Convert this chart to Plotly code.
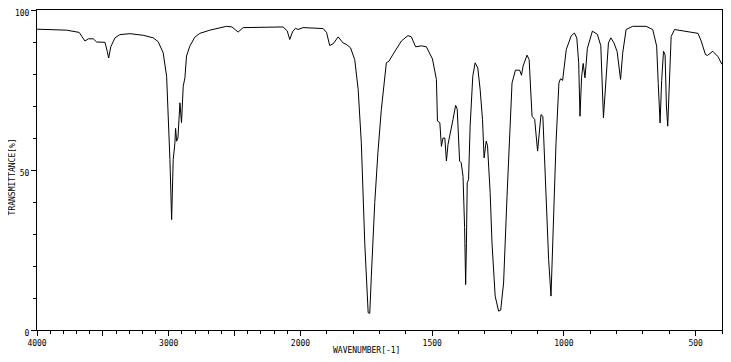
import plotly.graph_objects as go

# IR spectrum: wavenumber (cm-1) and transmittance (%)
wavenumber = [4000, 3775, 3680, 3636, 3610, 3573, 3547, 3484, 3467, 3456, 3440, 3408, 3371, 3295,
              3194, 3118, 3080, 3042, 3016, 3004, 2991, 2978, 2966, 2953, 2948, 2940, 2930, 2915,
              2903, 2890, 2877, 2865, 2840, 2802, 2764, 2688, 2561, 2520, 2473, 2435, 2283, 2132,
              2101, 2081, 2060, 2038, 2018, 1990, 1914, 1901, 1889, 1875, 1857, 1838, 1825, 1810,
              1794, 1781, 1769, 1756, 1743, 1737, 1731, 1718, 1706, 1693, 1674, 1664, 1649, 1617,
              1592, 1579, 1563, 1541, 1522, 1499, 1484, 1480, 1471, 1465, 1459, 1452, 1446, 1440,
              1421, 1411, 1405, 1396, 1390, 1383, 1377, 1373, 1370, 1367, 1362, 1356, 1346, 1337,
              1327, 1318, 1309, 1303, 1295, 1290, 1280, 1273, 1261, 1248, 1240, 1229, 1216, 1206,
              1197, 1184, 1168, 1161, 1155, 1140, 1132, 1121, 1111, 1100, 1093, 1087, 1080, 1070,
              1058, 1049, 1043, 1030, 1019, 1013, 1005, 991, 972, 960, 951, 944, 939, 933, 927,
              920, 911, 892, 873, 860, 850, 841, 831, 822, 810, 798, 785, 777, 764, 739, 688, 663,
              648, 642, 635, 629, 622, 616, 611, 606, 600, 593, 580, 542, 491, 479, 463, 455, 435,
              416, 400]
transmittance = [94.0, 93.7, 93.0, 90.3, 91.0, 91.0, 90.0, 89.9, 87.1, 85.0, 88.5, 91.3, 92.3, 92.6,
                 92.1, 91.3, 90.1, 86.6, 79.3, 68.9, 53.3, 34.5, 53.3, 58.5, 63.0, 59.0, 60.0, 71.0,
                 64.8, 76.2, 78.8, 85.6, 88.7, 91.5, 92.7, 93.7, 94.9, 94.7, 93.1, 94.5, 94.7, 94.7,
                 93.5, 90.8, 93.2, 94.3, 93.9, 94.5, 94.2, 93.0, 88.9, 89.5, 91.6, 89.7, 89.2, 88.2,
                 84.5, 75.2, 58.5, 27.2, 5.4, 5.2, 16.8, 39.8, 55.4, 68.9, 83.5, 84.0, 86.1, 90.3,
                 92.0, 91.6, 88.5, 88.8, 88.5, 84.7, 78.3, 65.3, 64.8, 57.4, 60.0, 60.0, 52.8, 58.0,
                 65.8, 70.2, 69.0, 52.8, 52.3, 48.0, 32.0, 14.2, 27.0, 46.0, 47.0, 63.7, 79.3, 83.5,
                 81.9, 75.2, 65.8, 53.8, 59.0, 57.6, 42.9, 27.2, 10.6, 5.9, 6.2, 14.7, 41.8, 63.7,
                 77.2, 81.2, 81.2, 79.6, 82.5, 85.9, 84.5, 66.8, 65.8, 55.9, 62.5, 67.3, 66.8, 48.0,
                 22.0, 10.6, 27.0, 58.5, 77.2, 78.5, 78.0, 87.7, 92.0, 92.8, 91.2, 83.5, 66.8, 79.0,
                 83.3, 78.8, 88.0, 93.4, 92.4, 88.8, 66.3, 79.0, 89.7, 91.3, 89.7, 87.0, 78.3, 86.5,
                 93.9, 94.9, 94.9, 93.9, 88.7, 77.0, 64.7, 78.0, 87.1, 86.0, 70.0, 63.7, 79.0, 91.7,
                 93.9, 93.4, 92.7, 90.3, 86.1, 85.8, 87.1, 85.5, 83.0]

major_ticks = [4000, 3500, 3000, 2500, 2000, 1500, 1000, 500]
major_labels = ["4000", "", "3000", "", "2000", "1500", "1000", "500"]
minor_ticks = [w for w in range(3900, 399, -100) if w not in major_ticks]
y_major = [0, 50, 100]
y_labels = ["0", "50", "100"]
y_minor = [10, 20, 30, 40, 60, 70, 80, 90]
x_title = "WAVENUMBER[-1]"
y_title = "TRANSMITTANCE[%]"


def to_axis(w):
    """Split wavenumber scale: 4000-2000 compressed by half, 2000-400 full."""
    return (4000 - w) / 2 if w >= 2000 else 1000 + (2000 - w)


x_pos = [to_axis(w) for w in wavenumber]

fig = go.Figure()
fig.add_trace(go.Scatter(x=x_pos, y=transmittance, mode="lines",
                         line=dict(color="black", width=1), showlegend=False,
                         hoverinfo="skip"))

font = dict(family="DejaVu Sans Mono", size=8, color="black")

# The page body has an 8px margin; size the figure so it fits the window.
fig.update_layout(
    width=715, height=346,
    margin=dict(l=29, r=1, t=2, b=24, autoexpand=False),
    paper_bgcolor="white", plot_bgcolor="white",
    font=font,
    xaxis=dict(
        range=[0, to_axis(400)],
        automargin=False,
        tickmode="array",
        tickvals=[to_axis(w) for w in major_ticks],
        ticktext=major_labels,
        ticks="outside", ticklen=5, tickwidth=1, tickcolor="black",
        minor=dict(tickmode="array", tickvals=[to_axis(w) for w in minor_ticks],
                   ticks="outside", ticklen=3, tickwidth=1, tickcolor="black"),
        showline=True, linecolor="black", linewidth=1, mirror=True,
        showgrid=False, zeroline=False,
        tickfont=font, ticklabeloverflow="allow",
    ),
    yaxis=dict(
        range=[0, 100],
        automargin=False,
        tickmode="array",
        tickvals=y_major, ticktext=y_labels,
        ticks="outside", ticklen=5, tickwidth=1, tickcolor="black",
        minor=dict(tickmode="array", tickvals=y_minor,
                   ticks="outside", ticklen=3, tickwidth=1, tickcolor="black"),
        showline=True, linecolor="black", linewidth=1, mirror=True,
        showgrid=False, zeroline=False,
        tickfont=font, ticklabeloverflow="allow", ticklabelshift=3,
    ),
    annotations=[
        dict(text=x_title, xref="paper", yref="paper", x=0.481, y=-0.0625,
             xanchor="center", yanchor="middle", showarrow=False, font=font),
        dict(text=y_title, xref="paper", yref="paper", x=-0.0365, y=0.48,
             xanchor="center", yanchor="middle", textangle=-90, showarrow=False,
             font=font),
    ],
)

fig.write_html("out.html")
